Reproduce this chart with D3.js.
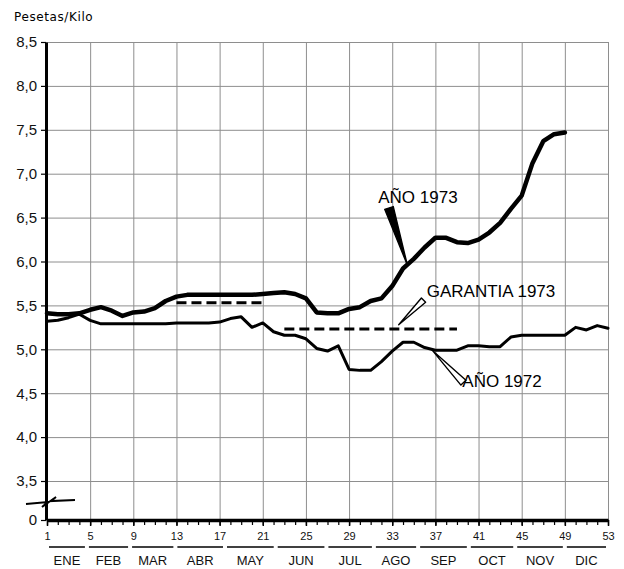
<!DOCTYPE html>
<html lang="es">
<head>
<meta charset="utf-8" />
<style>
body { margin: 0; background: #fff; }
.grid line { stroke: #8e8e8e; stroke-width: 1px; }
.grid .domain { display: none; }
.axis text { font-family: "Liberation Sans", Arial, sans-serif; fill: #111; }
.yAxis .domain { stroke: #000; stroke-width: 3px; }
.yAxis line { stroke: #000; stroke-width: 1.2px; }
.xAxis .domain { stroke: #000; stroke-width: 3.5px; }
.xAxis line { stroke: #000; stroke-width: 1.5px; }
.minor line { stroke: #000; stroke-width: 1.2px; }
.minor .domain { display: none; }
.serie { fill: none; stroke: #000; stroke-linejoin: round; stroke-linecap: round; }
.anno { font-family: "Liberation Sans", Arial, sans-serif; font-size: 17px; fill: #000; }
.mes { font-family: "Liberation Sans", Arial, sans-serif; font-size: 13px; fill: #111; text-anchor: middle; }
</style>
</head>
<body>
<script src="https://cdn.jsdelivr.net/npm/d3@7"></script>
<script>
// precios semanales (pesetas/kilo)
var semanas1973 = [1,2,3,4,5,6,7,8,9,10,11,12,13,14,15,16,17,18,19,20,21,22,23,24,25,
                   26,27,28,29,30,31,32,33,34,35,36,37,38,39,40,41,42,43,44,45,46,47,48,49];
var precios1973 = [5.41,5.40,5.40,5.41,5.45,5.48,5.44,5.38,5.42,5.43,5.47,5.55,5.60,5.62,5.62,
                   5.62,5.62,5.62,5.62,5.62,5.63,5.64,5.65,5.63,5.58,5.42,5.41,5.41,5.46,5.48,
                   5.55,5.58,5.72,5.92,6.03,6.16,6.27,6.27,6.22,6.21,6.25,6.33,6.44,6.60,6.75,
                   7.12,7.37,7.45,7.47];

var semanas1972 = [1,2,3,4,5,6,7,8,9,10,11,12,13,14,15,16,17,18,19,20,21,22,23,24,25,26,27,
                   28,29,30,31,32,33,34,35,36,37,38,39,40,41,42,43,44,45,46,47,48,49,50,51,52,53];
var precios1972 = [5.32,5.33,5.36,5.40,5.33,5.29,5.29,5.29,5.29,5.29,5.29,5.29,5.30,5.30,5.30,
                   5.30,5.31,5.35,5.37,5.25,5.30,5.20,5.16,5.16,5.12,5.01,4.98,5.04,4.77,4.76,
                   4.76,4.86,4.98,5.08,5.08,5.02,4.99,4.99,4.99,5.04,5.04,5.03,5.03,5.14,5.16,
                   5.16,5.16,5.16,5.16,5.25,5.22,5.27,5.24];

// garantia 1973, tramos
var garantiaDesde = [13, 23];
var garantiaHasta = [21, 39];
var garantiaPrecio = [5.53, 5.23];

var yTicks = [0, 3.5, 4.0, 4.5, 5.0, 5.5, 6.0, 6.5, 7.0, 7.5, 8.0, 8.5];
var yGrid = [3.5, 4.0, 4.5, 5.0, 5.5, 6.0, 6.5, 7.0, 7.5, 8.0, 8.5];
var weekTicks = [1, 5, 9, 13, 17, 21, 25, 29, 33, 37, 41, 45, 49, 53];
var meses = ["ENE","FEB","MAR","ABR","MAY","JUN","JUL","AGO","SEP","OCT","NOV","DIC"];
var limitesMes = [1, 4.7, 8.7, 12.9, 17.5, 22.2, 26.9, 31.3, 35.4, 40.1, 44.4, 49.0, 53];

// rotulos: texto, punta de la flecha y base (semana, precio)
var rotulos = ["AÑO 1973", "GARANTIA 1973", "AÑO 1972"];
var rotuloTexto = [[31.7, 6.67], [36.2, 5.60], [39.5, 4.57]];
var rotuloPunta = [[34.4, 5.96], [33.6, 5.28], [36.7, 4.99]];
var rotuloBase = [[32.7, 6.61], [35.9, 5.56], [39.6, 4.62]];
var rotuloAncho = [9, 6, 7];
var rotuloRelleno = ["#000", "#fff", "#fff"];

var width = 624, height = 569;

var svg = d3.select("body").append("svg")
    .attr("width", width)
    .attr("height", height);

var x = d3.scaleLinear().domain([1, 53]).range([47, 608]);
var y = d3.scaleLinear().domain([0, 3.5, 8.5]).range([520, 481, 42]);

// cuadricula
svg.append("g")
    .attr("class", "grid")
    .attr("transform", "translate(0,520)")
    .call(d3.axisBottom(x).tickValues(weekTicks).tickSize(-(520 - 42)).tickFormat(""));

svg.append("g")
    .attr("class", "grid")
    .attr("transform", "translate(46,0)")
    .call(d3.axisLeft(y).tickValues(yGrid).tickSize(-(608 - 46)).tickFormat(""));

// marcas semanales
svg.append("g")
    .attr("class", "minor")
    .attr("transform", "translate(0,520)")
    .call(d3.axisBottom(x).tickValues(d3.range(1, 54)).tickSize(5).tickFormat(""));

// ejes
svg.append("g")
    .attr("class", "axis xAxis")
    .attr("transform", "translate(0,520)")
    .call(d3.axisBottom(x).tickValues(weekTicks).tickSizeInner(6).tickSizeOuter(0).tickPadding(6))
    .selectAll("text").style("font-size", "11px");

svg.append("g")
    .attr("class", "axis yAxis")
    .attr("transform", "translate(46,0)")
    .call(d3.axisLeft(y).tickValues(yTicks).tickSizeInner(5).tickSizeOuter(0).tickPadding(4)
        .tickFormat(function (d) { return d === 0 ? "0" : d3.format(".1f")(d).replace(".", ","); }))
    .selectAll("text").style("font-size", "15px");

// corte del eje
svg.append("path")
    .attr("d", "M26,504 L48,502 L42,507 L56,497 L51,501 L75,500")
    .attr("fill", "none")
    .attr("stroke", "#000")
    .attr("stroke-width", 2)
    .attr("stroke-linejoin", "miter");

svg.append("text")
    .attr("x", 14)
    .attr("y", 21)
    .style("font-family", "'DejaVu Sans', sans-serif")
    .style("font-size", "12px")
    .style("letter-spacing", "0.6px")
    .text("Pesetas/Kilo");

// meses
meses.forEach(function (m, i) {
    var x0 = x(limitesMes[i]), x1 = x(limitesMes[i + 1]);
    svg.append("line")
        .attr("x1", x0 + 2).attr("x2", x1 - 2)
        .attr("y1", 547).attr("y2", 547)
        .attr("stroke", "#000").attr("stroke-width", 1.5);
    svg.append("text")
        .attr("class", "mes")
        .attr("x", (x0 + x1) / 2)
        .attr("y", 565)
        .text(m);
});

var line = d3.line()
    .x(function (d) { return x(d[0]); })
    .y(function (d) { return y(d[1]); });

// garantia
garantiaDesde.forEach(function (w, i) {
    svg.append("line")
        .attr("x1", x(w)).attr("x2", x(garantiaHasta[i]))
        .attr("y1", y(garantiaPrecio[i])).attr("y2", y(garantiaPrecio[i]))
        .attr("stroke", "#000")
        .attr("stroke-width", 3)
        .attr("stroke-dasharray", "10,5");
});

svg.append("path")
    .attr("class", "serie")
    .attr("stroke-width", 3)
    .attr("d", line(d3.zip(semanas1972, precios1972)));

svg.append("path")
    .attr("class", "serie")
    .attr("stroke-width", 4.5)
    .attr("d", line(d3.zip(semanas1973, precios1973)));

// rotulos con flecha
rotulos.forEach(function (r, i) {
    var tx = x(rotuloPunta[i][0]), ty = y(rotuloPunta[i][1]);
    var bx = x(rotuloBase[i][0]), by = y(rotuloBase[i][1]);
    var dx = bx - tx, dy = by - ty, len = Math.sqrt(dx * dx + dy * dy);
    var nx = -dy / len * rotuloAncho[i] / 2, ny = dx / len * rotuloAncho[i] / 2;
    svg.append("path")
        .attr("d", "M" + tx + "," + ty + "L" + (bx + nx) + "," + (by + ny) + "L" + (bx - nx) + "," + (by - ny) + "Z")
        .attr("fill", rotuloRelleno[i])
        .attr("stroke", "#000")
        .attr("stroke-width", 1.4)
        .attr("stroke-linejoin", "round");
    svg.append("text")
        .attr("class", "anno")
        .attr("x", x(rotuloTexto[i][0]))
        .attr("y", y(rotuloTexto[i][1]))
        .text(r);
});
</script>
</body>
</html>
